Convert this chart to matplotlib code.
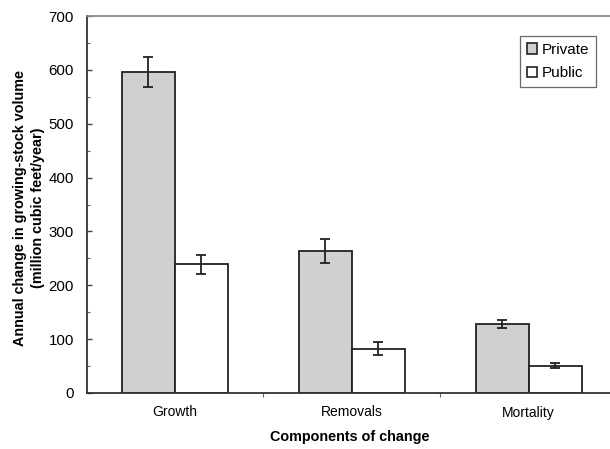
import numpy as np
import matplotlib.pyplot as plt
from matplotlib.ticker import MultipleLocator
from matplotlib.patches import Patch

plt.rcParams['font.family'] = ['Liberation Sans', 'DejaVu Sans']

# annual change by ownership, million cubic feet/year
components = ['Growth', 'Removals', 'Mortality']
private = [596, 264, 128]
private_err = [27, 22, 8]
public = [239, 82, 51]
public_err = [18, 12, 5]

fig = plt.figure(figsize=(6.1, 4.49), dpi=100)
W, H = 610, 449
ax = fig.add_axes([86.5 / W, 1 - 393 / H, (617 - 86.5) / W, (393 - 16) / H])

x = np.arange(len(components)) + 0.5
bw = 0.3
ekw = dict(ecolor='#222222', elinewidth=1.3, capsize=3.6, capthick=1.3)
ax.bar(x - bw / 2, private, bw, yerr=private_err, color='#d0d0d2',
       edgecolor='#222222', linewidth=1.3, error_kw=ekw, zorder=2)
ax.bar(x + bw / 2, public, bw, yerr=public_err, color='white',
       edgecolor='#222222', linewidth=1.3, error_kw=ekw, zorder=2)

ax.set_xlim(0, 3)
ax.set_ylim(0, 700)
ax.yaxis.set_major_locator(MultipleLocator(100))
ax.yaxis.set_minor_locator(MultipleLocator(50))
ax.tick_params(axis='y', which='major', direction='in', length=3.6, width=1,
               color='#444444', labelsize=10.8, pad=9)
ax.tick_params(axis='y', which='minor', direction='in', length=2.2, width=0.8,
               color='#666666')

# category labels between group separators
ax.set_xticks([1, 2])
ax.set_xticklabels([])
ax.tick_params(axis='x', which='major', direction='out', length=3, width=0.8,
               color='#666666')
ax.set_xticks(x, minor=True)
ax.set_xticklabels(components, minor=True, fontsize=10)
ax.tick_params(axis='x', which='minor', length=0, pad=9)

for s in ['left', 'bottom']:
    ax.spines[s].set_color('#333333')
    ax.spines[s].set_linewidth(1.3)
ax.spines['top'].set_color('#8a8a8a')
ax.spines['top'].set_linewidth(1.3)
ax.spines['right'].set_visible(False)

fig.text(29 / W, 1 - 208 / H, 'Annual change in growing-stock volume\n(million cubic feet/year)',
         rotation=90, ha='center', va='center', fontsize=10.4, fontweight='bold',
         linespacing=1.45)
fig.text(270 / W, 1 - 437 / H, 'Components of change', ha='left', va='center',
         fontsize=10.4, fontweight='bold')

handles = [Patch(facecolor='#d0d0d2', edgecolor='#222222', linewidth=1.2, label='Private'),
           Patch(facecolor='white', edgecolor='#222222', linewidth=1.2, label='Public')]
leg = ax.legend(handles=handles, loc='upper left', bbox_to_anchor=(520 / W, 1 - 36 / H),
                bbox_transform=fig.transFigure, fontsize=11, frameon=True, fancybox=False,
                handlelength=0.65, handleheight=0.65, handletextpad=0.3,
                borderpad=0.45, labelspacing=0.6, borderaxespad=0)
leg.get_frame().set_edgecolor('#444444')
leg.get_frame().set_linewidth(0.9)

fig.savefig('out.png', dpi=100)
